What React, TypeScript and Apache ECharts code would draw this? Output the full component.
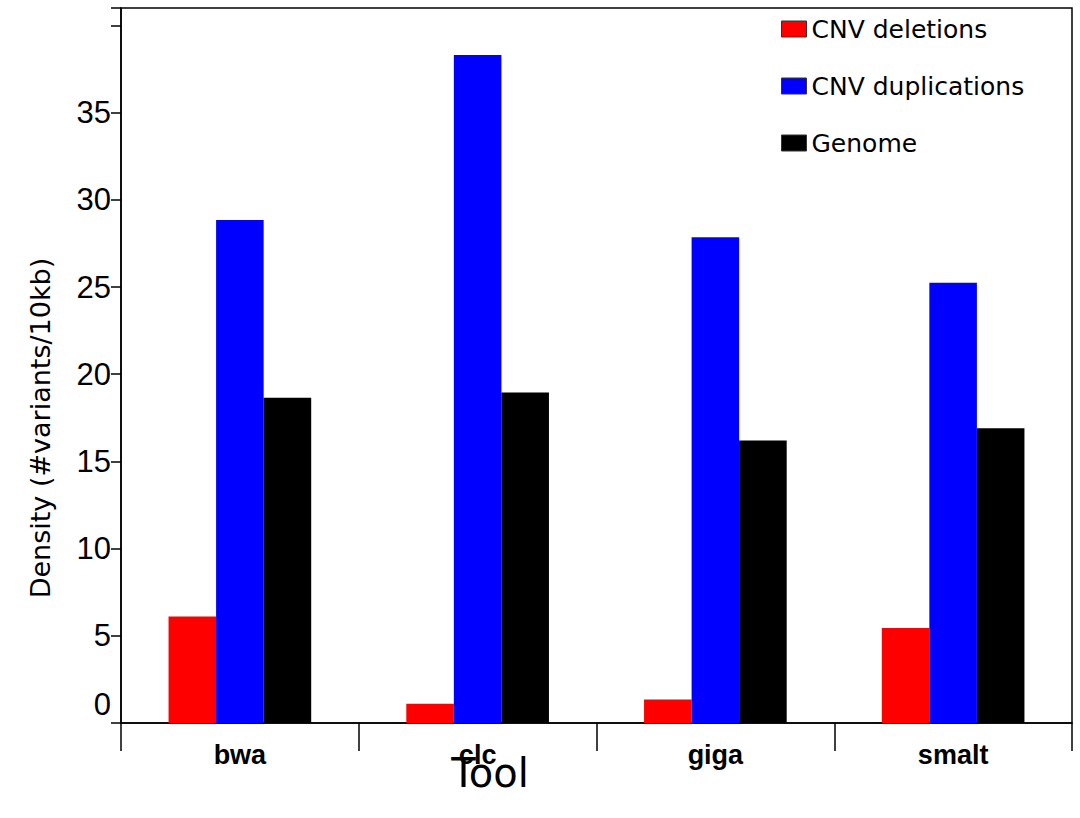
import { useEffect, useRef } from 'react';
import * as echarts from 'echarts';

const tools = ['bwa', 'clc', 'giga', 'smalt'];
const deletions = [6.1, 1.1, 1.35, 5.45];
const duplications = [28.85, 38.3, 27.85, 25.25];
const genome = [18.65, 18.95, 16.2, 16.9];

export default function App() {
    const chartRef = useRef<HTMLDivElement>(null);

    useEffect(() => {
        if (!chartRef.current) return;
        document.body.style.margin = '0';
        const chart = echarts.init(chartRef.current, undefined, { renderer: 'svg' });

        const bar = (name: string, data: number[], color: string) => ({
            name,
            type: 'bar' as const,
            data,
            barGap: '0%',
            barCategoryGap: '40%',
            itemStyle: { color },
        });

        chart.setOption({
            animation: false,
            backgroundColor: '#fff',
            grid: {
                left: 121, right: 8, top: 8, bottom: 95,
                show: true, borderColor: '#000', borderWidth: 1.5,
            },
            legend: {
                orient: 'vertical',
                left: 776,
                top: 11,
                itemWidth: 25,
                itemHeight: 16,
                itemGap: 31,
                icon: 'rect',
                itemStyle: { borderColor: '#333', borderWidth: 1 },
                textStyle: { fontFamily: 'DejaVu Sans', fontSize: 25, color: '#000', lineHeight: 26 },
                data: ['CNV deletions', 'CNV duplications', 'Genome'],
            },
            graphic: [
                {
                    type: 'text', x: 40, y: 428, rotation: Math.PI / 2,
                    style: {
                        text: 'Density (#variants/10kb)', fontFamily: 'DejaVu Sans', fontSize: 27,
                        fill: '#000', align: 'center', verticalAlign: 'middle',
                    },
                },
                {
                    type: 'text', x: 490, y: 773,
                    style: {
                        text: 'Tool', fontFamily: 'DejaVu Sans', fontSize: 40,
                        fill: '#000', align: 'center', verticalAlign: 'middle',
                    },
                },
            ],
            xAxis: {
                type: 'category',
                data: tools,
                axisLine: { lineStyle: { color: '#000', width: 1.5 } },
                axisTick: { show: true, length: 28, inside: false, lineStyle: { color: '#000', width: 1.5 } },
                axisLabel: {
                    fontFamily: 'Liberation Sans', fontSize: 27, fontWeight: 'bold', color: '#000', margin: 18,
                },
                splitLine: { show: false },
            },
            yAxis: {
                type: 'value',
                min: 0,
                max: 41,
                interval: 5,
                axisLine: { show: true, lineStyle: { color: '#000', width: 1.5 } },
                axisTick: { show: true, length: 10, lineStyle: { color: '#000', width: 1.5 } },
                axisLabel: {
                    fontFamily: 'Liberation Sans', fontSize: 31, color: '#000', margin: 10,
                    formatter: (v: number) => (v === 0 ? '{z|0}' : v >= 40 ? '' : String(v)),
                    rich: { z: { fontFamily: 'Liberation Sans', fontSize: 31, color: '#000', padding: [0, 0, 38, 0] } },
                },
                splitLine: { show: false },
            },
            series: [
                bar('CNV deletions', deletions, '#ff0000'),
                bar('CNV duplications', duplications, '#0000ff'),
                bar('Genome', genome, '#000000'),
            ],
        });

        return () => chart.dispose();
    }, []);

    return <div ref={chartRef} style={{ width: '1080px', height: '818px' }} />;
}
